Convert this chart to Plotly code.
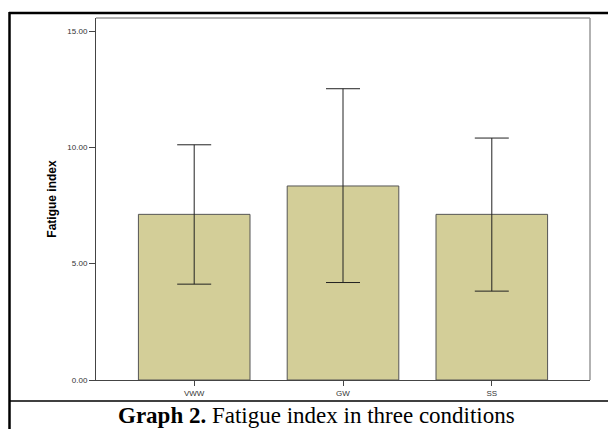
import plotly.graph_objects as go

categories = ["VWW", "GW", "SS"]
means = [7.12, 8.34, 7.12]
upper = [10.11, 12.52, 10.40]
lower = [4.12, 4.19, 3.82]

err_plus = [u - m for u, m in zip(upper, means)]
err_minus = [m - l for m, l in zip(means, lower)]

W, H = 608, 429
ML, MR, MT, MB = 96, 18, 18, 49
PW, PH = W - ML - MR, H - MT - MB

def px(x):
    return (x - ML) / PW

def py(y):
    return (H - MB - y) / PH

fig = go.Figure()
fig.add_trace(go.Bar(
    x=[0, 1, 2], y=means, width=0.75,
    marker=dict(color="#D3CE98", line=dict(color="#555555", width=1)),
    error_y=dict(type="data", symmetric=False, array=err_plus, arrayminus=err_minus,
                 color="#222222", thickness=1, width=17),
))

fig.update_layout(
    width=W, height=H,
    margin=dict(l=ML, r=MR, t=MT, b=MB),
    paper_bgcolor="white", plot_bgcolor="white",
    showlegend=False,
    font=dict(family="Liberation Sans, Arial", color="#333333", size=9),
    xaxis=dict(range=[-0.66, 2.66], tickvals=[0, 1, 2], ticktext=categories,
               showgrid=False, zeroline=False, showline=True, linecolor="#444444",
               linewidth=1, ticks="outside", ticklen=5, tickcolor="#444444",
               tickfont=dict(size=8, color="#333333"), mirror=False),
    yaxis=dict(range=[0, 15.56], tickvals=[0, 5, 10, 15], tickformat=".2f",
               showgrid=False, zeroline=False, showline=True, linecolor="#444444",
               linewidth=1, ticks="outside", ticklen=6, tickcolor="#444444",
               tickfont=dict(size=8, color="#333333"),
               title=dict(text="<b>Fatigue index</b>", standoff=8,
                          font=dict(size=12, color="#000000"))),
)

# grey frame top/right of plot area
fig.add_shape(type="line", xref="paper", yref="paper", x0=0, x1=1, y0=1, y1=1,
              line=dict(color="#999999", width=1.5))
fig.add_shape(type="line", xref="paper", yref="paper", x0=1, x1=1, y0=0, y1=1,
              line=dict(color="#999999", width=1.5))

# outer document border
fig.add_shape(type="line", xref="paper", yref="paper", x0=px(9.5), x1=px(9.5), y0=py(12), y1=py(429),
              line=dict(color="#000000", width=2.5))
fig.add_shape(type="line", xref="paper", yref="paper", x0=px(9), x1=px(608), y0=py(13), y1=py(13),
              line=dict(color="#000000", width=2.5))
fig.add_shape(type="line", xref="paper", yref="paper", x0=px(10), x1=px(608), y0=py(401), y1=py(401),
              line=dict(color="#000000", width=1.5))

fig.add_annotation(
    xref="paper", yref="paper", x=px(316), y=py(415), xanchor="center", yanchor="middle",
    text="<b>Graph 2.</b> Fatigue index in three conditions", showarrow=False,
    font=dict(family="Liberation Serif, Times New Roman", size=23, color="#000000"),
)

fig.write_html("out.html", config={"displayModeBar": False},
               post_script="document.body.style.margin='0';document.body.style.overflow='hidden';")
